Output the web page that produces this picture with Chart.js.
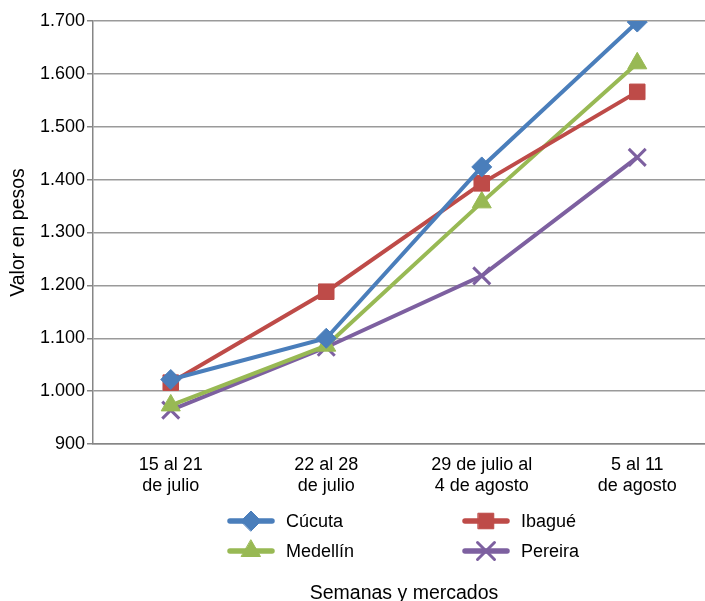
<!DOCTYPE html>
<html><head><meta charset="utf-8">
<script src="https://cdn.jsdelivr.net/npm/chart.js@4"></script>
<style>html,body{margin:0;padding:0;overflow:hidden;background:#fff}#wrap{width:730px;height:601px}</style>
</head><body><div id="wrap"><canvas id="c" width="730" height="601"></canvas></div>
<script>
const categories = [["15 al 21","de julio"],["22 al 28","de julio"],["29 de julio al","4 de agosto"],["5 al 11","de agosto"]];
const cucuta = [1022, 1100, 1424, 1698];
const ibague = [1016, 1188, 1393, 1566];
const medellin = [973, 1086, 1357, 1620];
const pereira = [964, 1083, 1218, 1442];
const seriesNames = ["Cúcuta","Ibagué","Medellín","Pereira"];
const yTicks = {min: 900, max: 1700, step: 100};

const colors = ['#4A7EBB','#BE4B48','#98B954','#7D60A0'];
const styles = ['rectRot','rect','triangle','crossRot'];
const radii = [10,11,11,12];
const bw = [1,1,1,3];
const FONT = 'Liberation Sans, Arial, sans-serif';

function ds(i, data){
  return {label: seriesNames[i], data, borderColor: colors[i], backgroundColor: colors[i],
    borderWidth: 4, pointStyle: styles[i], pointRadius: radii[i], pointHoverRadius: radii[i],
    pointBorderWidth: bw[i], pointBorderColor: colors[i], tension: 0};
}

const legendPlugin = {
  id: 'leg',
  afterDraw(chart){
    const ctx = chart.ctx;
    const items = [[0,228,521],[1,463,521],[2,228,551],[3,463,551]];
    items.forEach(([i,x,y])=>{
      ctx.save();
      ctx.strokeStyle = colors[i]; ctx.lineWidth = 5.5; ctx.lineCap='round';
      ctx.beginPath(); ctx.moveTo(x+2,y); ctx.lineTo(x+44,y); ctx.stroke();
      ctx.fillStyle = colors[i];
      ctx.lineWidth = bw[i];
      Chart.helpers.drawPoint(ctx, {pointStyle: styles[i], radius: radii[i], borderWidth: bw[i]}, x+23, y);
      ctx.fillStyle = '#000'; ctx.font = '18px '+FONT; ctx.textBaseline='middle';
      ctx.fillText(seriesNames[i], x+58, y+1);
      ctx.restore();
    });
  }
};

new Chart(document.getElementById('c'), {
  type: 'line',
  data: {labels: categories, datasets: [ds(0,cucuta), ds(1,ibague), ds(2,medellin), ds(3,pereira)]},
  plugins: [legendPlugin],
  options: {
    responsive: false, animation: false,
    layout: {padding: {top: 21, right: 14, left: 7, bottom: 0}},
    plugins: {legend: {display: false}, tooltip: {enabled: false}},
    scales: {
      x: {
        offset: true,
        grid: {display: false, drawTicks: false},
        border: {color: '#868686', width: 1.5},
        ticks: {color: '#000', font: {family: FONT, size: 18}, padding: 10, maxRotation: 0, autoSkip: false},
        title: {display: true, text: 'Semanas y mercados', color: '#000', font: {family: FONT, size: 19.5}, padding: {top: 0, bottom: -4}},
        afterFit(s){ s.height = 157; }
      },
      y: {
        min: yTicks.min, max: yTicks.max,
        grid: {color: '#9a9a9a', lineWidth: 1.5, tickLength: 6, tickColor: '#868686'},
        border: {color: '#868686', width: 1.5},
        ticks: {stepSize: yTicks.step, color: '#000', font: {family: FONT, size: 18}, padding: 2,
          callback: v => v.toLocaleString('de-DE')},
        title: {display: true, text: 'Valor en pesos', color: '#000', font: {family: FONT, size: 19.5}, padding: {top: 0, bottom: 0}},
        afterFit(s){ s.width = 86; }
      }
    }
  }
});
</script></body></html>
